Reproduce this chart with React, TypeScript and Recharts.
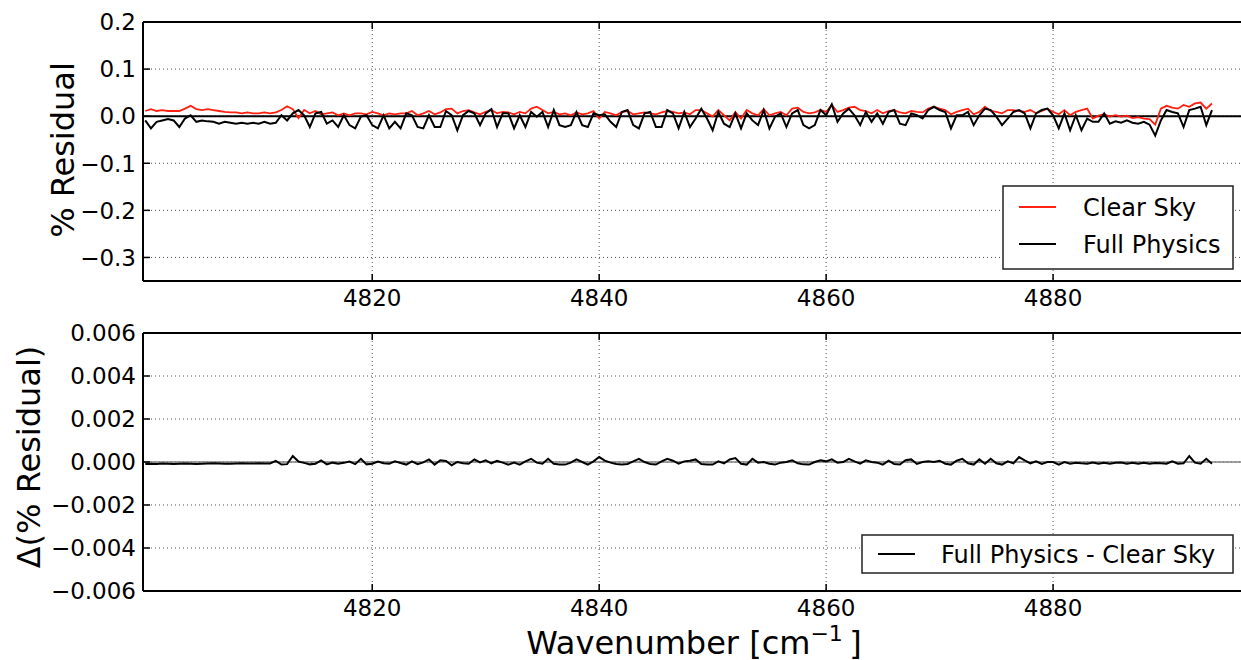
import React from 'react';
import { LineChart, Line, XAxis, YAxis, CartesianGrid, ReferenceLine } from 'recharts';

// ─── Data (one value every 0.5 cm^-1 from 4800) ──────────────────────────────

const clearSky = [
  0.011, 0.015, 0.011, 0.013, 0.011, 0.011, 0.011, 0.016, 0.022, 0.015,
  0.013, 0.015, 0.013, 0.011, 0.009, 0.008, 0.008, 0.006, 0.008, 0.006,
  0.006, 0.008, 0.006, 0.008, 0.013, 0.021, 0.015, -0.004, 0.013, 0.006,
  0.011, 0.004, 0.006, 0.008, 0.002, 0.006, 0.002, 0.006, 0.006, 0.004,
  0.009, 0.006, 0.002, 0.006, 0.004, 0.006, 0.006, 0.011, 0.002,
  0.006, 0.011, 0.004, 0.008, 0.015, 0.016, 0.006, 0.011, 0.013, 0.008,
  0.004, 0.009, 0.013, 0.006, 0.009, 0.008, 0.004, 0.009, 0.006, 0.016,
  0.02, 0.013, 0.006, 0.009, 0.004, 0.006, 0.002, 0.008, 0.004, 0.006,
  0.011, -0.005, 0.009, 0.006, 0.002, 0.009, 0.011, 0.004, 0.006, 0.008,
  0.006, 0.004, 0.008, 0.011, 0.009, 0.006, 0.008, 0.004,
  0.013, 0.013, 0.006, -0.001, 0.013, 0.002, -0.009, 0.009, -0.005, 0.013,
  0.006, 0.002, 0.015, 0.002, 0.006, 0.009, 0.002, 0.016, 0.018, 0.009,
  0.006, 0.008, 0.013, 0.009, 0.024, 0.009, 0.013, 0.018, 0.02, 0.013,
  0.011, 0.006, 0.013, 0.006, 0.011, 0.013, 0.008, 0.006, 0.011, 0.009,
  0.008, 0.016, 0.02, 0.016, 0.013, 0.004, 0.009,
  0.013, 0.016, 0.004, 0.009, 0.02, 0.011, 0.009, 0.006, 0.013, 0.013,
  0.011, 0.009, 0.013, 0.006, 0.011, 0.016, 0.009, 0.004, 0.013, 0.002,
  0.009, 0.013, 0.016, -0.005, 0.001, 0.004, -0.001, 0.002, -0.001, 0.001,
  -0.004, -0.002, -0.005, -0.006, -0.018, 0.016, 0.022, 0.018, 0.016, 0.024,
  0.02, 0.027, 0.029, 0.016, 0.027,
];

const fullPhysics = [
  -0.009, -0.026, -0.012, -0.009, -0.006, -0.009, -0.023, -0.005, 0.002, -0.012,
  -0.009, -0.011, -0.012, -0.016, -0.012, -0.014, -0.016, -0.014, -0.016, -0.014,
  -0.016, -0.012, -0.016, -0.014, 0.002, -0.009, 0.006, 0.013, 0.002, -0.023,
  0.006, 0.009, -0.016, -0.009, -0.023, 0.002, -0.019, -0.026, -0.001, 0.002,
  -0.019, -0.026, 0.002, -0.026, -0.012, -0.026, 0.006, 0.002, -0.023,
  -0.026, 0.002, -0.023, -0.023, 0.011, 0.002, -0.03, 0.002, 0.011, 0.006,
  -0.019, 0.006, 0.015, -0.023, 0.006, 0.006, -0.026, 0.002, -0.023, 0.009,
  -0.001, 0.009, -0.023, 0.013, -0.019, -0.023, -0.019, 0.009, -0.019, -0.023,
  0.006, 0.002, 0.004, -0.012, -0.023, 0.009, 0.013, -0.019, -0.026, 0.006,
  0.009, -0.023, -0.023, 0.013, 0.006, -0.026, 0.009, -0.023,
  -0.005, 0.016, -0.005, -0.03, 0.009, -0.016, -0.023, 0.006, -0.026, 0.006,
  -0.009, -0.019, 0.013, -0.026, -0.001, 0.006, -0.023, 0.006, 0.013, -0.019,
  -0.026, -0.019, 0.013, 0.002, 0.025, -0.012, 0.006, 0.016, 0.002, -0.019,
  0.009, -0.012, 0.006, -0.016, 0.009, 0.013, -0.016, -0.019, 0.006, 0.002,
  -0.005, 0.013, 0.02, 0.013, 0.009, -0.026, 0.002,
  0.002, 0.009, -0.019, 0.002, 0.016, 0.013, -0.001, -0.019, -0.005, 0.009,
  0.013, 0.006, -0.026, 0.006, 0.013, 0.016, 0.002, -0.026, 0.006, -0.03,
  0.002, -0.03, -0.005, -0.012, -0.012, 0.006, -0.016, -0.011, -0.014, -0.009,
  -0.014, -0.016, -0.012, -0.018, -0.041, -0.009, 0.013, 0.009, 0.006, -0.023,
  0.013, 0.016, 0.02, -0.019, 0.013,
];

const deltaResidual = [
  -0.00009, -0.00008, -0.00009, -0.00007, -0.00008, -0.00009, -0.00008, -0.00007, -0.00008, -0.00009,
  -0.00008, -0.00007, -0.00006, -0.00007, -0.00008, -0.00008, -0.00007, -0.00006, -0.00007, -0.00007,
  -0.00006, -0.00007, -0.00007,
  0.00005, -0.00012, -0.0001, 0.00028, 0.00002, -0.00004, -0.00011, -0.00008, 0.00007, -0.00011,
  -0.00003, -0.00008, -0.00004, 0.00002, -0.0001, 0.00015, -0.00011, -0.00008, 0.00002, -0.00006,
  -0.00008, 0.00003, -0.00005, -0.00012, 0.00003, -0.0001, -0.00002, 0.00012, -0.00012, 0.00008,
  0.00005, -0.00015, 0, -0.00006, -0.00008, 0.00012, -0.00002, 0.00008, -0.00006, 0.00005,
  -0.00003, -0.00012,
  -0.00003, -0.00012, 0.00003, 0.00015, -0.00003, -0.00008, 0.00015, -0.00008, -0.00012, -0.00012,
  -0.00003, 0.00012, 0, -0.00012, 0.00003, 0.00023, 0.00006, -0.00003, -0.00009, -0.00012,
  -0.00009, 0.00003, 0.00015, 0, -0.00009, -0.00012, 0.00003, 0.00015, 0.00006, -0.00008,
  0.00003, 0.00006, 0.00012, -0.00009, -0.00012, -0.00012, 0.00003, -0.00006, 0.00012, 0.00018,
  -0.00008, -0.00012, 0.00015, -0.00003, 0, -0.00008, -0.00012, -0.00003, 0, 0.00008,
  -0.00006, -0.00011, -0.00012, 0, 0.00008, 0.00003, 0.00012, -0.00003, 0, 0.00015,
  0.00003, -0.00008, 0.00008, 0,
  -0.00003, -0.00012, 0.00006, -0.00009, -0.00012, 0.00008, 0.00012, -0.00009, 0, 0.00003,
  0, 0.00006, -0.00008, -0.00012, 0.00006, 0.00015, -0.00006, -0.00012, 0.00012, -0.00008,
  0.00015, -0.00006, -0.00012, 0.00003, -0.00006, 0.00023, 0.00008, -0.00006, 0.00003, -0.00009,
  0, 0, -0.00012, 0, -0.00008, -0.00003, -0.00006, -0.00008, -0.00002, -0.00008,
  -0.00003, -0.00008, -0.00003, -0.00002, -0.00008, -0.00003, -0.00008, -0.00003, -0.00008, -0.00005,
  -0.00006, -0.00008, 0.00003, -0.00008, -0.00006, 0.00028, -0.00003, -0.00008, 0.00015, -0.00008,
];

const xTicks = [4820, 4840, 4860, 4880];
const topTicks = [-0.3, -0.2, -0.1, 0, 0.1, 0.2];
const bottomTicks = [-0.006, -0.004, -0.002, 0, 0.002, 0.004, 0.006];

const wavenumbers = clearSky.map((_, i) => 4800 + i * 0.5);
const topData = wavenumbers.map((w, i) => ({ w, clear: clearSky[i], full: fullPhysics[i] }));
const bottomData = wavenumbers.map((w, i) => ({ w, delta: deltaResidual[i] }));

// ─── Styling helpers ──────────────────────────────────────────────────────────

const FONT = '"DejaVu Sans", "Bitstream Vera Sans", sans-serif';
const X_DOMAIN: [number, number] = [4799.8, 4897];
const CHART_W = 1300;
const CHART_H = 320;

const fmt = (v: number, d: number) => v.toFixed(d).replace('-', '\u2212');

function makeXTick(plotTop: number) {
  return (props: any) => {
    const { x, y, payload } = props;
    return (
      <g>
        <line x1={x} x2={x} y1={y} y2={y - 7} stroke="#000" strokeWidth={1.5} />
        <line x1={x} x2={x} y1={plotTop} y2={plotTop + 7} stroke="#000" strokeWidth={1.5} />
        <text x={x} y={y + 25} textAnchor="middle" fontSize={23} fontFamily={FONT} fill="#000">
          {payload.value}
        </text>
      </g>
    );
  };
}

function makeYTick(decimals: number) {
  return (props: any) => {
    const { x, y, payload } = props;
    return (
      <g>
        <line x1={x} x2={x + 7} y1={y} y2={y} stroke="#000" strokeWidth={1.5} />
        <text x={x - 7} y={y} dy="0.36em" textAnchor="end" fontSize={23} fontFamily={FONT} fill="#000">
          {fmt(payload.value, decimals)}
        </text>
      </g>
    );
  };
}

// ─── Panels ───────────────────────────────────────────────────────────────────

function ResidualPanel() {
  return (
    <LineChart
      width={CHART_W}
      height={CHART_H}
      data={topData}
      margin={{ top: 22, right: 54, left: 0, bottom: 0 }}
    >
      <CartesianGrid stroke="#555" strokeDasharray="1 3" />
      <XAxis
        dataKey="w"
        type="number"
        domain={X_DOMAIN}
        allowDataOverflow
        ticks={xTicks}
        height={39}
        tickSize={0}
        tickMargin={0}
        tickLine={false}
        axisLine={{ stroke: '#000', strokeWidth: 2 }}
        tick={makeXTick(22)}
      />
      <YAxis
        type="number"
        domain={[-0.35, 0.2]}
        ticks={topTicks}
        width={143}
        tickSize={0}
        tickMargin={0}
        tickLine={false}
        axisLine={{ stroke: '#000', strokeWidth: 2 }}
        tick={makeYTick(1)}
      />
      <ReferenceLine y={0.2} stroke="#000" strokeWidth={2} />
      <ReferenceLine y={0} stroke="#000" strokeWidth={2} />
      <Line
        dataKey="clear"
        type="linear"
        stroke="#ff2010"
        strokeWidth={1.8}
        dot={false}
        isAnimationActive={false}
      />
      <Line
        dataKey="full"
        type="linear"
        stroke="#000"
        strokeWidth={2}
        dot={false}
        isAnimationActive={false}
      />
    </LineChart>
  );
}

function DeltaPanel() {
  return (
    <LineChart
      width={CHART_W}
      height={CHART_H}
      data={bottomData}
      margin={{ top: 22, right: 54, left: 0, bottom: 0 }}
    >
      <CartesianGrid stroke="#555" strokeDasharray="1 3" />
      <XAxis
        dataKey="w"
        type="number"
        domain={X_DOMAIN}
        allowDataOverflow
        ticks={xTicks}
        height={40}
        tickSize={0}
        tickMargin={0}
        tickLine={false}
        axisLine={{ stroke: '#000', strokeWidth: 2 }}
        tick={makeXTick(22)}
      />
      <YAxis
        type="number"
        domain={[-0.006, 0.006]}
        ticks={bottomTicks}
        width={143}
        tickSize={0}
        tickMargin={0}
        tickLine={false}
        axisLine={{ stroke: '#000', strokeWidth: 2 }}
        tick={makeYTick(3)}
      />
      <ReferenceLine y={0.006} stroke="#000" strokeWidth={2} />
      <ReferenceLine y={0} stroke="#808080" strokeWidth={1.5} />
      <Line
        dataKey="delta"
        type="linear"
        stroke="#000"
        strokeWidth={2}
        dot={false}
        isAnimationActive={false}
      />
    </LineChart>
  );
}

// ─── Titles and legends ───────────────────────────────────────────────────────

function Overlay() {
  return (
    <svg
      width={1241}
      height={660}
      style={{ position: 'absolute', left: 0, top: 0, pointerEvents: 'none' }}
      fontFamily={FONT}
    >
      <text transform="translate(74,150) rotate(-90)" textAnchor="middle" fontSize={32} fill="#000">
        % Residual
      </text>
      <text transform="translate(40,457) rotate(-90)" textAnchor="middle" fontSize={32} fill="#000">
        Δ(% Residual)
      </text>
      <text x={694} y={654} textAnchor="middle" fontSize={32} fill="#000">
        Wavenumber [cm
        <tspan fontSize={22} dy={-13}>{'\u22121'}</tspan>
        <tspan fontSize={32} dy={13}>{'\u2009]'}</tspan>
      </text>

      <rect x={1003} y={186} width={230} height={83} fill="#fff" stroke="#222" strokeWidth={1.5} />
      <line x1={1019} x2={1056} y1={207} y2={207} stroke="#ff2010" strokeWidth={1.8} />
      <text x={1083} y={216} fontSize={24} fill="#000">Clear Sky</text>
      <line x1={1019} x2={1056} y1={244} y2={244} stroke="#000" strokeWidth={2} />
      <text x={1083} y={253} fontSize={24} fill="#000">Full Physics</text>

      <rect x={862} y={535} width={371} height={38} fill="#fff" stroke="#222" strokeWidth={1.5} />
      <line x1={878} x2={915} y1={554} y2={554} stroke="#000" strokeWidth={2} />
      <text x={941} y={563} fontSize={24} fill="#000">Full Physics - Clear Sky</text>
    </svg>
  );
}

export default function App() {
  return (
    <div
      style={{
        position: 'absolute',
        left: 0,
        top: 0,
        width: 1241,
        height: 660,
        overflow: 'hidden',
        background: '#fff',
      }}
    >
      <div style={{ position: 'absolute', left: 0, top: 0 }}>
        <ResidualPanel />
      </div>
      <div style={{ position: 'absolute', left: 0, top: 311 }}>
        <DeltaPanel />
      </div>
      <Overlay />
    </div>
  );
}
